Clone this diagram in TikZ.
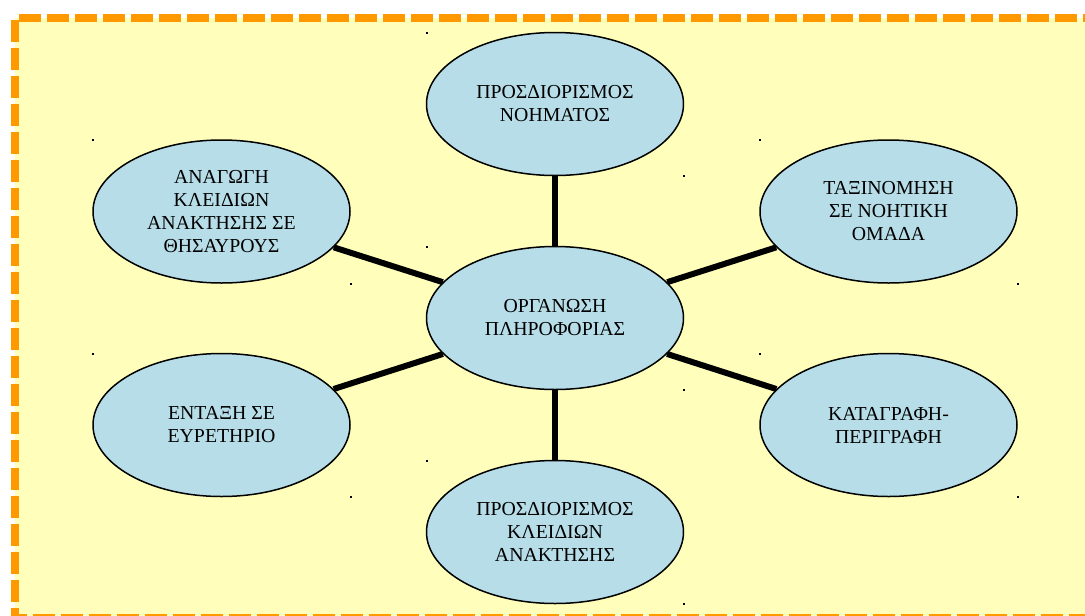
\documentclass[tikz,border=0pt]{standalone}
\usepackage{fontspec}
\setmainfont{Liberation Serif}
\usetikzlibrary{shapes.geometric,backgrounds}
\definecolor{bgyellow}{HTML}{FFFFBB}
\definecolor{frameorange}{HTML}{FF9900}
\definecolor{bubblecol}{HTML}{B7DEE8}
\begin{document}
\begin{tikzpicture}[x=1pt,y=-1pt,
  bubble/.style={ellipse, draw=black, line width=1.5pt, fill=bubblecol,
    minimum width=257pt, minimum height=143pt, inner sep=0pt, align=center,
    font=\fontsize{19.8pt}{23pt}\selectfont},
  link/.style={line width=6pt, black},
  framedash/.style={frameorange, line width=8pt, dash pattern=on 22pt off 6pt},
  dotmark/.style={rectangle, fill=black, inner sep=0pt, minimum size=2.2pt}]
\useasboundingbox (0,0) rectangle (1085,616);
\begin{pgfonlayer}{background}
  \begin{scope}
    \clip (0,0) rectangle (1085,616);
    \fill[bgyellow] (15,18) rectangle (1095,630);
    \draw[framedash] (19,18) -- (1095,18);
    \draw[framedash] (15,20) -- (15,630);
    \draw[framedash, dash phase=6pt] (11,618) -- (1095,618);
  \end{scope}
\end{pgfonlayer}

\node[bubble] (top) at (555,104) {ΠΡΟΣΔΙΟΡΙΣΜΟΣ\\ΝΟΗΜΑΤΟΣ};
\node[bubble] (mid) at (555,318) {ΟΡΓΑΝΩΣΗ\\ΠΛΗΡΟΦΟΡΙΑΣ};
\node[bubble] (bot) at (555,532) {ΠΡΟΣΔΙΟΡΙΣΜΟΣ\\ΚΛΕΙΔΙΩΝ\\ΑΝΑΚΤΗΣΗΣ};
\node[bubble] (ul) at (221.5,211.5) {ΑΝΑΓΩΓΗ\\ΚΛΕΙΔΙΩΝ\\ΑΝΑΚΤΗΣΗΣ ΣΕ\\ΘΗΣΑΥΡΟΥΣ};
\node[bubble] (ur) at (888.5,211.5) {ΤΑΞΙΝΟΜΗΣΗ\\ΣΕ ΝΟΗΤΙΚΗ\\ΟΜΑΔΑ};
\node[bubble] (ll) at (221.5,425) {ΕΝΤΑΞΗ ΣΕ\\ΕΥΡΕΤΗΡΙΟ};
\node[bubble] (lr) at (888.5,425) {ΚΑΤΑΓΡΑΦΗ-\\ΠΕΡΙΓΡΑΦΗ};

\begin{pgfonlayer}{background}
  \draw[link] (mid) -- (top);
  \draw[link] (mid) -- (bot);
  \draw[link] (mid) -- (ul);
  \draw[link] (mid) -- (ur);
  \draw[link] (mid) -- (ll);
  \draw[link] (mid) -- (lr);
\end{pgfonlayer}

\foreach \n in {top,mid,bot,ul,ur,ll,lr}{
  \node[dotmark] (\n-tl) at ([xshift=1pt,yshift=-1pt]\n.west |- \n.north) {};
  \node[dotmark] (\n-br) at (\n.east |- \n.south) {};
}
\end{tikzpicture}
\end{document}
